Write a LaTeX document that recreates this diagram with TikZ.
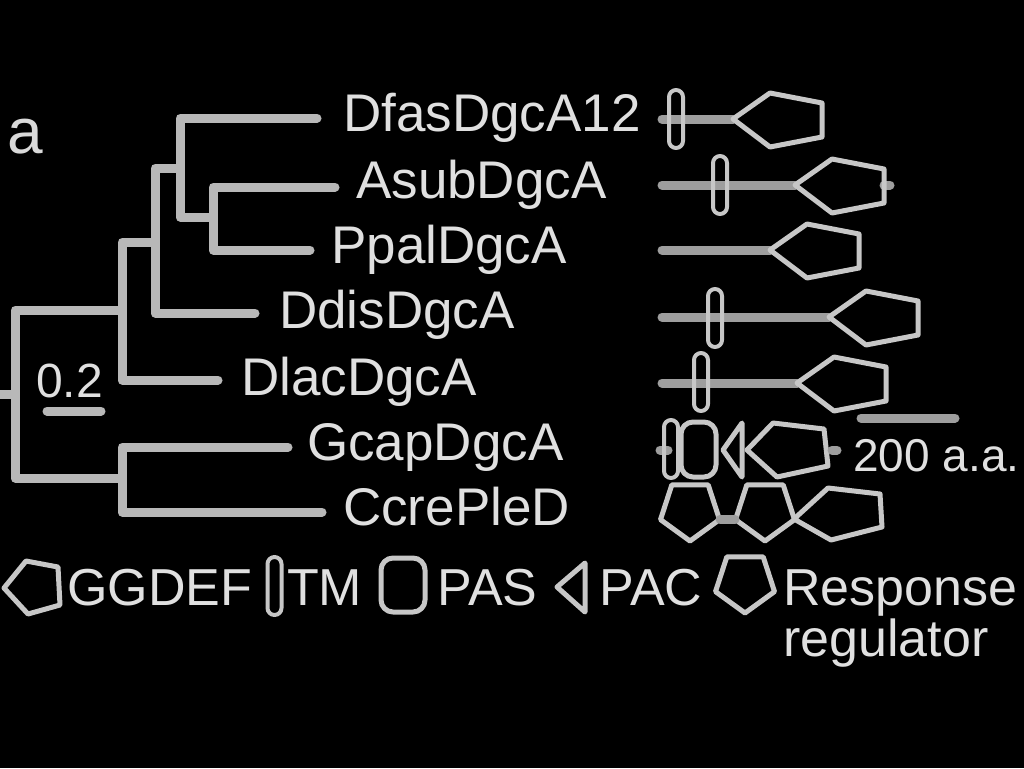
\documentclass[tikz,border=0pt]{standalone}
\usepackage{fontspec}
\setmainfont{Liberation Sans}
\begin{document}
\begin{tikzpicture}[x=1pt,y=-1pt,
  branch/.style={draw=white!72!black, line width=9pt, line cap=round, line join=round},
  lbl/.style={anchor=base west, inner sep=0pt, text=white!88!black, font=\fontsize{53}{58}\selectfont},
  leg/.style={anchor=base west, inner sep=0pt, text=white!88!black, font=\fontsize{52}{56}\selectfont},
  backbone/.style={draw=white!62!black, line width=9pt, line cap=round},
  dom/.style={draw=white!78!black, line width=5pt, line join=round, line cap=round},
  ggdef/.pic={\draw[dom] (0,0) -- (37,-26) -- (89,-16) -- (89,18) -- (37,28) -- cycle;},
  tmbar/.pic={\draw[dom, line width=4pt, rounded corners=7pt] (-7,-29) rectangle (7,29);},
  rrpent/.pic={\draw[dom] (-29.5,9.6) -- (-18.2,-25.1) -- (18.2,-25.1) -- (29.5,9.6) -- (0,31) -- cycle;}
]
\fill[black] (0,0) rectangle (1024,768);
\useasboundingbox (0,0) rectangle (1024,768);

% panel label
\node[anchor=base west, inner sep=0pt, text=white!85!black, font=\fontsize{64}{68}\selectfont] (panel) at (7,153) {a};

% tree coordinates
\coordinate (r) at (0,394);
\coordinate (n1) at (15,394);
\coordinate (n2) at (122,310);
\coordinate (n3) at (155,242);
\coordinate (n4) at (180,168);
\coordinate (n5) at (213,217);
\coordinate (n6) at (122,478);
\coordinate (eDfas) at (317,118);
\coordinate (eAsub) at (335,187);
\coordinate (ePpal) at (310,250);
\coordinate (eDdis) at (255,313);
\coordinate (eDlac) at (218,380);
\coordinate (eGcap) at (288,447);
\coordinate (eCcre) at (322,512);

\draw[branch] (r) -- (n1);
\draw[branch] (n1) |- (n2);
\draw[branch] (n1) |- (n6);
\draw[branch] (n2) |- (n3);
\draw[branch] (n2) |- (eDlac);
\draw[branch] (n3) |- (n4);
\draw[branch] (n3) |- (eDdis);
\draw[branch] (n4) |- (eDfas);
\draw[branch] (n4) |- (n5);
\draw[branch] (n5) |- (eAsub);
\draw[branch] (n5) |- (ePpal);
\draw[branch] (n6) |- (eGcap);
\draw[branch] (n6) |- (eCcre);

% leaf labels
\node[lbl] (lDfas) at (343,131) {DfasDgcA12};
\node[lbl] (lAsub) at (356,198) {AsubDgcA};
\node[lbl] (lPpal) at (331,263) {PpalDgcA};
\node[lbl] (lDdis) at (279,328) {DdisDgcA};
\node[lbl] (lDlac) at (241,395) {DlacDgcA};
\node[lbl] (lGcap) at (307,460) {GcapDgcA};
\node[lbl] (lCcre) at (343,525) {CcrePleD};

% tree scale bar
\node[anchor=base west, inner sep=0pt, text=white!88!black, font=\fontsize{48}{52}\selectfont] (s02) at (36,397) {0.2};
\coordinate (sb1) at (47,411);
\coordinate (sb2) at (101,411);
\draw[branch] (sb1) -- (sb2);

% domain rows
% row 1
\coordinate (b1a) at (662,119); \coordinate (b1b) at (733,119);
\draw[backbone] (b1a) -- (b1b);
\pic at (676,119) {tmbar};
\pic at (b1b) {ggdef};
% row 2
\coordinate (b2a) at (662,185); \coordinate (b2b) at (795,185);
\draw[backbone] (b2a) -- (b2b);
\coordinate (b2c) at (884,185); \coordinate (b2d) at (890,185);
\draw[backbone] (b2c) -- (b2d);
\pic at (720,185) {tmbar};
\pic at (b2b) {ggdef};
% row 3
\coordinate (b3a) at (662,250); \coordinate (b3b) at (770,250);
\draw[backbone] (b3a) -- (b3b);
\pic at (b3b) {ggdef};
% row 4
\coordinate (b4a) at (662,317); \coordinate (b4b) at (829,317);
\draw[backbone] (b4a) -- (b4b);
\pic at (715,318) {tmbar};
\pic at (b4b) {ggdef};
% row 5
\coordinate (b5a) at (662,383); \coordinate (b5b) at (797,383);
\draw[backbone] (b5a) -- (b5b);
\pic at (701,382) {tmbar};
\pic at (b5b) {ggdef};
% row 6
\coordinate (b6a) at (660,450); \coordinate (b6b) at (668,450);
\draw[backbone] (b6a) -- (b6b);
\pic at (671,449) {tmbar};
\draw[dom, rounded corners=12pt] (681,422) rectangle (716,477);
\draw[dom] (723,450) -- (742,423) -- (742,477) -- cycle;
\draw[dom] (747,450) -- (773,423) -- (824,429) -- (828,466) -- (777,477) -- cycle;
\coordinate (b6c) at (832,450); \coordinate (b6d) at (837,450);
\draw[backbone] (b6c) -- (b6d);
% row 7
\pic at (690,510) {rrpent};
\pic at (765,510) {rrpent};
\coordinate (b7a) at (720,519); \coordinate (b7b) at (735,519);
\draw[backbone] (b7a) -- (b7b);
\draw[dom] (794,519) -- (828,488) -- (880,494) -- (882,527) -- (831,540) -- cycle;

% domain scale bar
\coordinate (d1) at (861,418); \coordinate (d2) at (955,418);
\draw[backbone] (d1) -- (d2);
\node[anchor=base west, inner sep=0pt, text=white!88!black, font=\fontsize{46}{50}\selectfont] (s200) at (853,471) {200 a.a.};

% legend
\draw[dom] (4,588) -- (26,561) -- (58,567) -- (60,605) -- (28,614) -- cycle;
\node[leg] (tGG) at (67,605) {GGDEF};
\pic at (274.5,586) {tmbar};
\node[leg] (tTM) at (287,605) {TM};
\draw[dom, rounded corners=12pt] (381,558) rectangle (425,612);
\node[leg] (tPAS) at (437,605) {PAS};
\draw[dom] (557,587) -- (585,563) -- (585,612) -- cycle;
\node[leg] (tPAC) at (599,605) {PAC};
\pic at (745,582) {rrpent};
\node[leg] (tRes) at (783,605) {Response};
\node[leg] (tReg) at (783,656) {regulator};
\end{tikzpicture}
\end{document}
